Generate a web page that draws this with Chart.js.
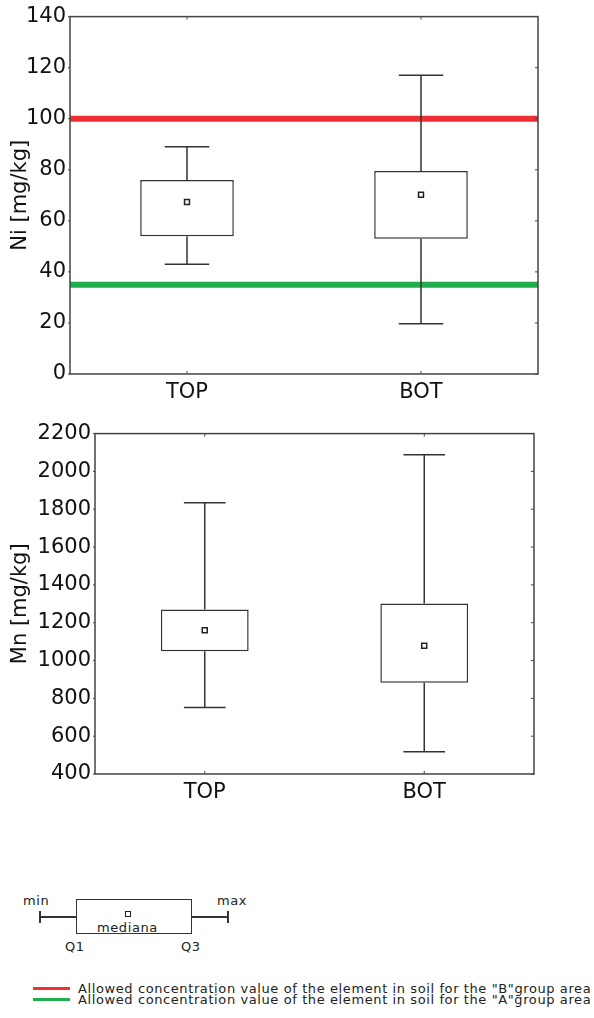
<!DOCTYPE html>
<html lang="en">
<head>
<meta charset="UTF-8">
<title>Ni / Mn box plots</title>
<script src="https://cdn.jsdelivr.net/npm/chart.js"></script>
<style>
  body { margin: 0; background: #fff; font-family: "DejaVu Sans", Verdana, sans-serif; color: #222; }
  .pagina { position: relative; width: 594px; height: 1018px; }
  .caixa-grafico { position: absolute; left: 0; width: 594px; }
  .leg { position: absolute; font-size: 13px; line-height: 13px; letter-spacing: 0.6px; color: #222; white-space: nowrap; }
  .risco { position: absolute; background: #333; }
</style>
</head>
<body>
<div class="pagina">
  <div class="caixa-grafico" style="top:0; height:410px;"><canvas id="grafico_ni"></canvas></div>
  <div class="caixa-grafico" style="top:417px; height:393px;"><canvas id="grafico_mn"></canvas></div>

  <!-- chave do box plot -->
  <span class="leg" style="left:23px; top:894px;">min</span>
  <div class="risco" style="left:39px; top:911px; width:1.5px; height:12px;"></div>
  <div class="risco" style="left:40px; top:916px; width:36px; height:1.5px;"></div>
  <div style="position:absolute; left:76px; top:899px; width:114px; height:33px; border:1.5px solid #333;"></div>
  <div class="risco" style="left:192px; top:916px; width:36px; height:1.5px;"></div>
  <div class="risco" style="left:227px; top:911px; width:1.5px; height:12px;"></div>
  <span class="leg" style="left:217px; top:894px;">max</span>
  <div style="position:absolute; left:125px; top:911px; width:4px; height:4px; border:1.5px solid #222;"></div>
  <span class="leg" style="left:97px; top:921px;">mediana</span>
  <span class="leg" style="left:65px; top:940px;">Q1</span>
  <span class="leg" style="left:181px; top:940px;">Q3</span>

  <!-- linhas de limite -->
  <div style="position:absolute; left:33px; top:987px; width:37px; height:2.5px; background:#ee3035;"></div>
  <span class="leg" style="left:78px; top:982px;">Allowed concentration value of the element in soil for the "B"group area</span>
  <div style="position:absolute; left:33px; top:998px; width:37px; height:2.5px; background:#1fae4b;"></div>
  <span class="leg" style="left:78px; top:993px;">Allowed concentration value of the element in soil for the "A"group area</span>
</div>
<script>
  // dados
  var categorias = ['TOP', 'BOT'];

  var ni_min = [43, 19.7];
  var ni_q1 = [54, 53];
  var ni_mediana = [67.4, 70.2];
  var ni_q3 = [76, 79.5];
  var ni_max = [89, 117];
  var ni_limite_b = 100;
  var ni_limite_a = 35;

  var mn_min = [751, 517];
  var mn_q1 = [1049, 883];
  var mn_mediana = [1160, 1078];
  var mn_q3 = [1270, 1301];
  var mn_max = [1834, 2088];

  var cor_b = '#ee3035';
  var cor_a = '#1fae4b';
  var cor_traco = '#333';

  // desenha linhas de limite, bigodes e moldura
  var pluginBigodes = {
    id: 'bigodes',
    beforeDatasetsDraw: function (chart, args, opts) {
      var ctx = chart.ctx;
      var area = chart.chartArea;
      var x = chart.scales.x;
      var y = chart.scales.y;
      ctx.save();
      (opts.limites || []).forEach(function (lim) {
        var py = y.getPixelForValue(lim.valor);
        ctx.strokeStyle = lim.cor;
        ctx.lineWidth = 6;
        ctx.beginPath();
        ctx.moveTo(area.left, py);
        ctx.lineTo(area.right, py);
        ctx.stroke();
      });
      var larguraCat = (area.right - area.left) / categorias.length;
      var meioCap = larguraCat * 0.095;
      ctx.strokeStyle = cor_traco;
      ctx.lineWidth = 1.5;
      for (var i = 0; i < categorias.length; i++) {
        var px = x.getPixelForValue(i);
        var yMin = y.getPixelForValue(opts.min[i]);
        var yQ1 = y.getPixelForValue(opts.q1[i]);
        var yQ3 = y.getPixelForValue(opts.q3[i]);
        var yMax = y.getPixelForValue(opts.max[i]);
        ctx.beginPath();
        ctx.moveTo(px, yQ3); ctx.lineTo(px, yMax);
        ctx.moveTo(px - meioCap, yMax); ctx.lineTo(px + meioCap, yMax);
        ctx.moveTo(px, yQ1); ctx.lineTo(px, yMin);
        ctx.moveTo(px - meioCap, yMin); ctx.lineTo(px + meioCap, yMin);
        ctx.stroke();
      }
      ctx.restore();
    },
    afterDraw: function (chart) {
      var ctx = chart.ctx;
      var area = chart.chartArea;
      var x = chart.scales.x;
      var y = chart.scales.y;
      ctx.save();
      ctx.strokeStyle = '#444';
      ctx.lineWidth = 1.5;
      ctx.strokeRect(area.left, area.top, area.right - area.left, area.bottom - area.top);
      ctx.lineWidth = 1;
      ctx.beginPath();
      y.ticks.forEach(function (t) {
        var py = y.getPixelForValue(t.value);
        ctx.moveTo(area.right, py); ctx.lineTo(area.right - 3, py);
        ctx.moveTo(area.left, py); ctx.lineTo(area.left - 2, py);
      });
      for (var i = 0; i < categorias.length; i++) {
        var px = x.getPixelForValue(i);
        ctx.moveTo(px, area.top); ctx.lineTo(px, area.top + 3);
        ctx.moveTo(px, area.bottom); ctx.lineTo(px, area.bottom - 3);
      }
      ctx.stroke();
      ctx.restore();
    }
  };

  function MontarGrafico(idCanvas, titulo, q1, mediana, q3, bigodes, escala, larguraY, padDir) {
    var caixas = [];
    for (var i = 0; i < categorias.length; i++) {
      caixas[i] = [q1[i], q3[i]];
    }
    return new Chart(idCanvas, {
      data: {
        labels: categorias,
        datasets: [
          {
            type: 'line',
            label: 'mediana',
            data: mediana,
            showLine: false,
            pointStyle: 'rect',
            pointRadius: 3.5,
            pointBackgroundColor: '#fff',
            pointBorderColor: '#222',
            pointBorderWidth: 1.5,
            order: 0
          },
          {
            type: 'bar',
            label: 'Q1-Q3',
            data: caixas,
            backgroundColor: '#fff',
            borderColor: cor_traco,
            borderWidth: 1.5,
            borderSkipped: false,
            barPercentage: 0.4,
            categoryPercentage: 1,
            order: 1
          }
        ]
      },
      options: {
        responsive: true,
        maintainAspectRatio: false,
        animation: false,
        layout: { padding: { top: 13, right: padDir, left: 0, bottom: 0 } },
        plugins: {
          legend: { display: false },
          tooltip: { enabled: false },
          bigodes: bigodes
        },
        scales: {
          x: {
            grid: { display: false, drawTicks: false },
            border: { display: false },
            ticks: { color: '#111', font: { family: 'DejaVu Sans', size: 21 }, padding: 6 },
            afterFit: function (s) { s.height = 36; }
          },
          y: {
            min: escala.min,
            max: escala.max,
            grid: { display: false, drawTicks: false },
            border: { display: false },
            ticks: {
              stepSize: escala.passo, color: '#111', font: { family: 'DejaVu Sans', size: 21 }, padding: 4,
              callback: function (v) { return String(v); }
            },
            title: { display: true, text: titulo, color: '#111', font: { family: 'DejaVu Sans', size: 21 }, padding: { top: 8, bottom: 0 } },
            afterFit: function (s) { s.width = larguraY; }
          }
        }
      },
      plugins: [pluginBigodes]
    });
  }

  MontarGrafico('grafico_ni', 'Ni [mg/kg]', ni_q1, ni_mediana, ni_q3,
    { min: ni_min, q1: ni_q1, q3: ni_q3, max: ni_max,
      limites: [{ valor: ni_limite_b, cor: cor_b }, { valor: ni_limite_a, cor: cor_a }] },
    { min: 0, max: 140, passo: 20 }, 70, 56);

  MontarGrafico('grafico_mn', 'Mn [mg/kg]', mn_q1, mn_mediana, mn_q3,
    { min: mn_min, q1: mn_q1, q3: mn_q3, max: mn_max, limites: [] },
    { min: 400, max: 2200, passo: 200 }, 95, 60);
</script>
</body>
</html>
